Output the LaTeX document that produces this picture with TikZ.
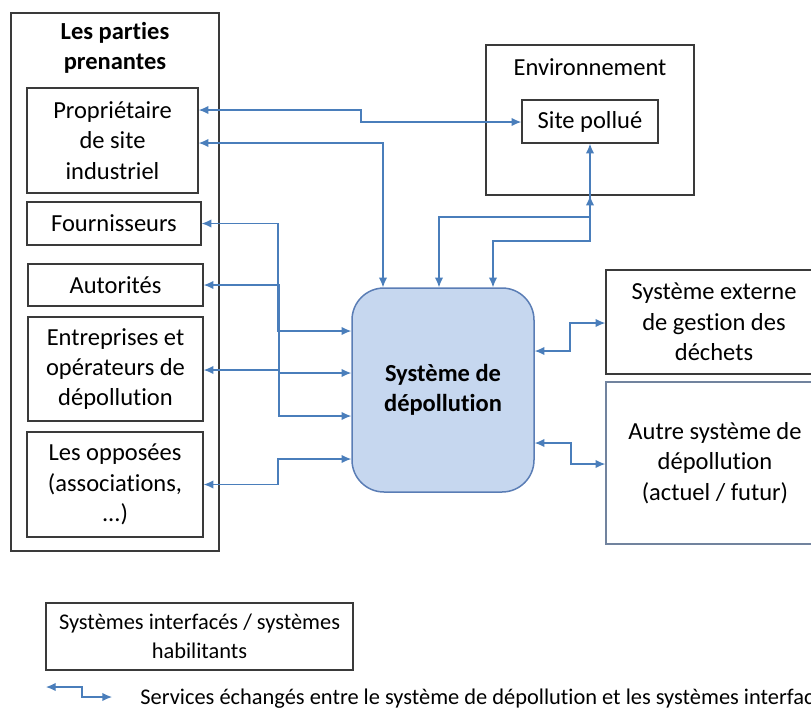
\documentclass[tikz,border=0pt]{standalone}
\usepackage{fontspec}
\setmainfont{Carlito}[Ligatures=NoCommon]
\usetikzlibrary{arrows.meta}
\definecolor{linkblue}{HTML}{4A7EBB}
\definecolor{coreblue}{HTML}{C6D7EF}
\definecolor{coreline}{HTML}{5A7DB5}
\definecolor{boxline}{HTML}{3A3A3A}
\definecolor{softline}{HTML}{71839E}
\tikzset{
	box/.style={draw=boxline, line width=0.75pt, inner sep=0pt, align=center, font=\fontsize{12.25}{15.2}\selectfont},
	link/.style={draw=linkblue, line width=0.6pt, {Latex[length=4.8pt,width=4.2pt]}-{Latex[length=4.8pt,width=4.2pt]}},
	keyfont/.style={font=\fontsize{11.2}{14.5}\selectfont}
}

\begin{document}
\begin{tikzpicture}[x=0.5pt, y=-0.5pt]
		%%%%% START %%%%%
		\useasboundingbox (0,0) rectangle (811,709);
		
		\node[box, minimum width=104pt, minimum height=269pt] (parties) at (115,282) {};
		\node[align=center, font=\fontsize{12.25}{15.2}\selectfont\bfseries] (titre) at (115,48) {Les parties\\prenantes};
		
		\node[box, minimum width=85.5pt, minimum height=52.5pt] (prop) at (112.5,140.5) {Propriétaire\\de site\\industriel};
		\node[box, minimum width=87pt, minimum height=21.5pt] (fourn) at (114,223.5) {Fournisseurs};
		\node[box, minimum width=87.5pt, minimum height=21pt] (autor) at (115.5,285) {Autorités};
		\node[box, minimum width=87.5pt, minimum height=52pt] (entr) at (115.5,369) {Entreprises et\\opérateurs de\\dépollution};
		\node[box, minimum width=88pt, minimum height=52.5pt] (oppos) at (115,484.5) {Les opposées\\(associations,\\...)};
		
		\node[box, minimum width=104pt, minimum height=75pt] (env) at (590,120) {};
		\node[font=\fontsize{12.25}{15.2}\selectfont] (envtitre) at (590,67) {Environnement};
		\node[box, minimum width=68pt, minimum height=21.5pt] (site) at (590,121.5) {Site pollué};
		
		\node[box, draw=coreline, fill=coreblue, rounded corners=16pt, font=\fontsize{12.25}{15.2}\selectfont\bfseries, minimum width=91pt, minimum height=102pt] (depol) at (443,390) {Système de\\dépollution};
		
		\node[box, minimum width=108pt, minimum height=52pt] (dechets) at (714,322) {Système externe\\de gestion des\\déchets};
		\node[box, draw=softline, minimum width=109pt, minimum height=81pt] (autre) at (715,463) {Autre système de\\dépollution\\(actuel / futur)};
		
		\draw[link] (prop.east |- 0,110) -- (361,110) -- (361,122) -- (site.west |- 0,122);
		\draw[link] (prop.east |- 0,143) -- (383,143) -- (depol.north -| 383,0);
		\draw[link] (depol.north -| 439,0) -- (439,217) -- (590,217) -- (env.south);
		\draw[link] (depol.north -| 493,0) -- (493,241) -- (590,241) -- (site.south);
		
		\draw[link] (fourn.east) -- (278,223.5) -- (278,331) -- (depol.west |- 0,331);
		\draw[link] (autor.east) -- (279,285) -- (279,416) -- (depol.west |- 0,416);
		\draw[link] (entr.east |- 0,370) -- (279,370) -- (279,373) -- (depol.west |- 0,373);
		\draw[link] (oppos.east) -- (278,484.5) -- (278,459) -- (depol.west |- 0,459);
		
		\draw[link] (depol.east |- 0,351) -- (570,351) -- (570,323) -- (dechets.west |- 0,323);
		\draw[link] (depol.east |- 0,443) -- (571,443) -- (571,464) -- (autre.west |- 0,464);
		
		\node[box, keyfont, minimum width=153.5pt, minimum height=33.5pt] (legende) at (199.5,636.5) {Systèmes interfacés / systèmes\\habilitants};
		\coordinate (cleG) at (46,687);
		\coordinate (cleD) at (112,697);
		\draw[link] (cleG) -- (82,687) -- (82,697) -- (cleD);
		\node[keyfont, anchor=base west, inner sep=0pt] (services) at (140,704) {Services échangés entre le système de dépollution et les systèmes interfacés};
		
		%%%%% END %%%%%
\end{tikzpicture}
\end{document}
